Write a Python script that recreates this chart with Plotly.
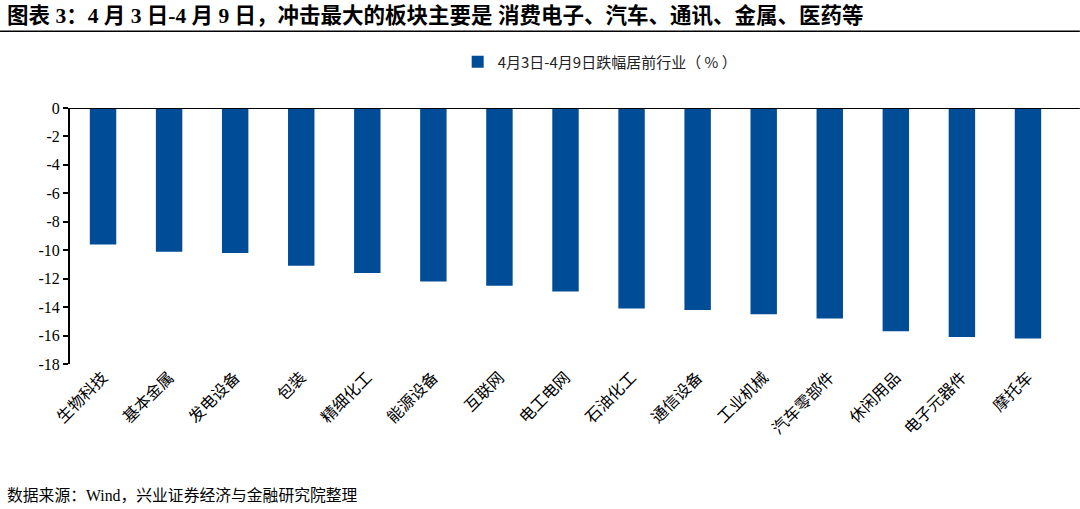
import plotly.graph_objects as go

categories = ["生物科技", "基本金属", "发电设备", "包装", "精细化工", "能源设备", "互联网", "电工电网",
              "石油化工", "通信设备", "工业机械", "汽车零部件", "休闲用品", "电子元器件", "摩托车"]
values = [-9.6, -10.1, -10.2, -11.1, -11.6, -12.2, -12.5, -12.9,
          -14.1, -14.2, -14.5, -14.8, -15.7, -16.1, -16.2]
series_name = "4月3日-4月9日跌幅居前行业（ % ）"
y_ticks = [0, -2, -4, -6, -8, -10, -12, -14, -16, -18]

title_text = "图表 3：4 月 3 日-4 月 9 日，冲击最大的板块主要是 消费电子、汽车、通讯、金属、医药等"
source_text = "数据来源：Wind，兴业证券经济与金融研究院整理"

FONT = "Liberation Serif, Noto Sans CJK SC, serif"
CJK = "Noto Sans CJK SC, Liberation Serif, sans-serif"

fig = go.Figure()
fig.add_trace(go.Bar(
    x=categories, y=values, name=series_name,
    marker=dict(color="#004C97", line=dict(width=0)),
    showlegend=True,
))

fig.update_layout(
    width=1080, height=509,
    margin=dict(l=70, r=19, t=108, b=145, autoexpand=False),
    paper_bgcolor="white", plot_bgcolor="white",
    bargap=0.6,
    font=dict(family=FONT, color="black"),
    showlegend=True,
    legend=dict(orientation="h", x=0.535, xanchor="center", y=1.18, yanchor="middle",
                font=dict(family=CJK, size=15, color="#222"), itemwidth=30,
                bgcolor="rgba(0,0,0,0)"),
    xaxis=dict(tickangle=-45, tickfont=dict(family=CJK, size=16, color="black"),
               showline=False, showgrid=False, ticks="", zeroline=False, automargin=False),
    yaxis=dict(range=[-18, 0], tickvals=y_ticks, ticktext=[str(v) for v in y_ticks],
               tickfont=dict(family=FONT, size=16, color="black"),
               showline=True, linecolor="black", linewidth=2,
               ticks="outside", ticklen=5, tickwidth=2, tickcolor="black",
               showgrid=False, zeroline=False, automargin=False),
)

# zero line at top
fig.add_shape(type="line", xref="paper", yref="y", x0=0, x1=1.019, y0=0, y1=0,
              line=dict(color="black", width=2))
# title rule
fig.add_shape(type="line", xref="paper", yref="paper", x0=-0.0706, x1=1.019, y0=1.30, y1=1.30,
              line=dict(color="black", width=1.5))

fig.add_annotation(text="<b>" + title_text + "</b>", xref="paper", yref="paper",
                   x=-0.066, y=1.363, xanchor="left", yanchor="middle", showarrow=False,
                   font=dict(family=FONT, size=21.5, color="black"))
fig.add_annotation(text=source_text, xref="paper", yref="paper",
                   x=-0.066, y=-0.512, xanchor="left", yanchor="middle", showarrow=False,
                   font=dict(family=FONT, size=15.8, color="black"))

fig.write_html("out.html", config={"displayModeBar": False},
               post_script="document.body.style.margin='0';document.body.style.overflow='hidden';")
